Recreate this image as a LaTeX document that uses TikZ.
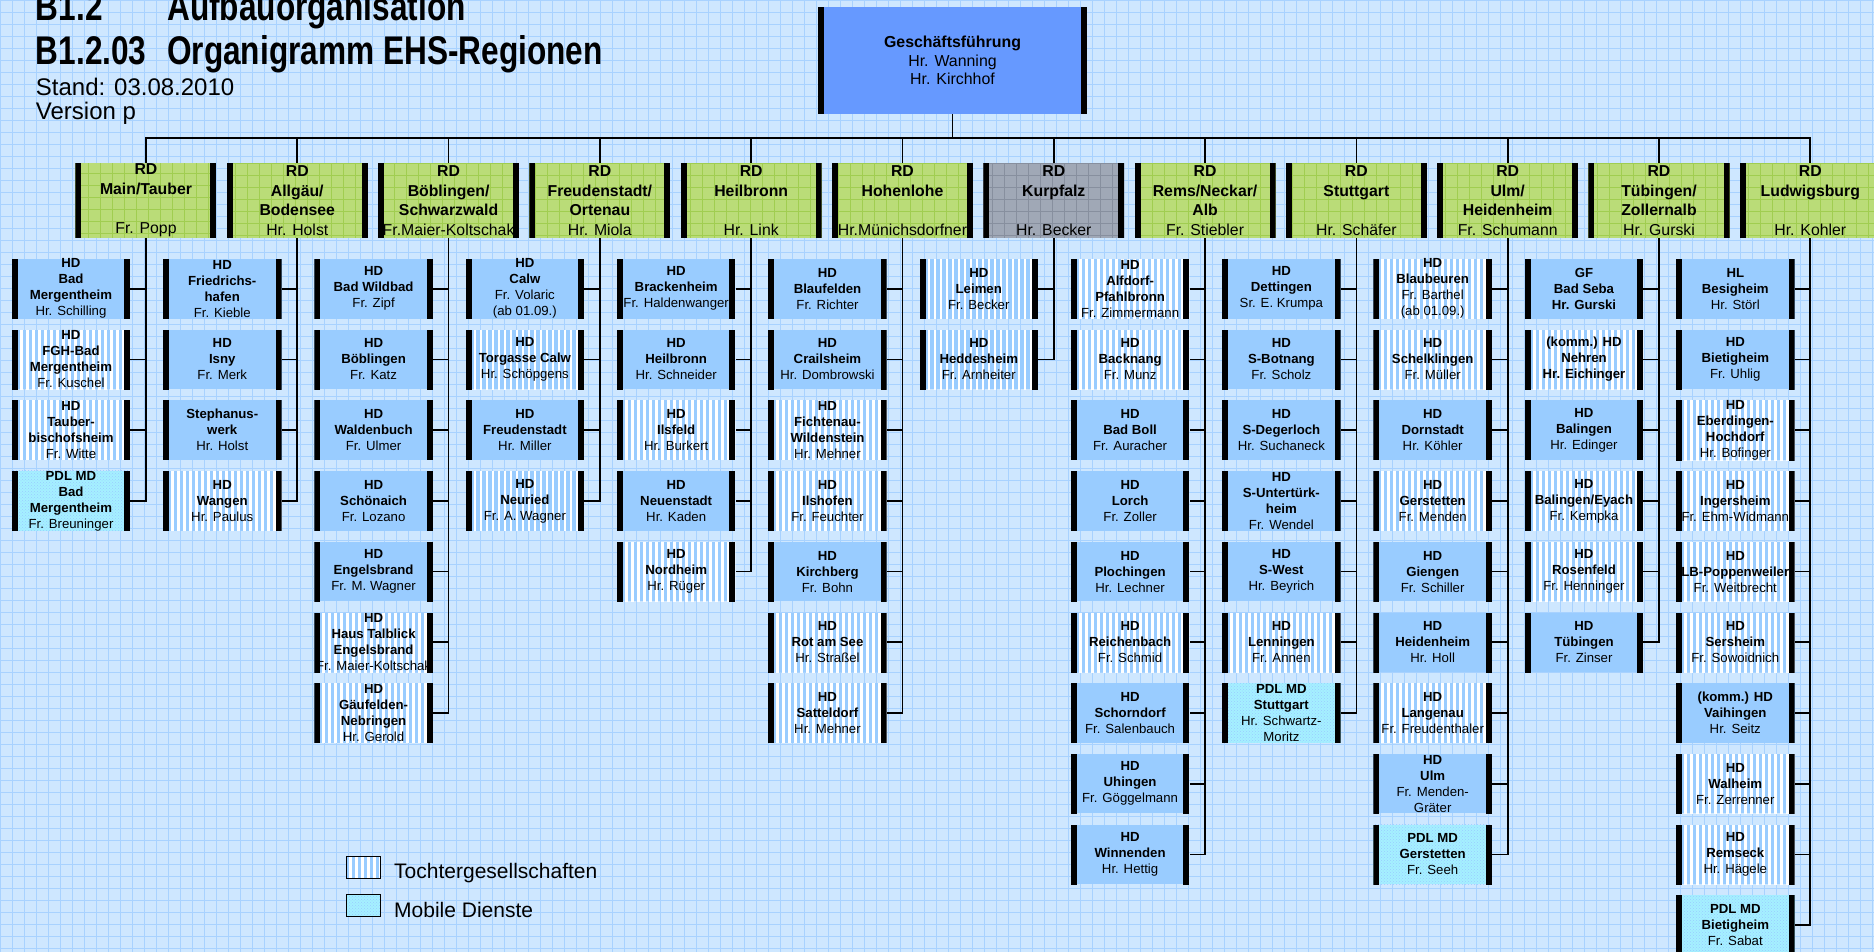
\documentclass[tikz,border=0pt]{standalone}
\usepackage{fontspec}
\setmainfont{Liberation Sans}
\newfontfamily\headfont[FakeStretch=0.79]{Liberation Sans}
\usepackage{tikz}
\usetikzlibrary{trees,shapes,patterns}

\definecolor{paper}{RGB}{206,231,255}
\definecolor{paperline}{RGB}{168,210,255}
\definecolor{gfblue}{RGB}{102,153,255}
\definecolor{hdblue}{RGB}{153,204,255}
\definecolor{rdgreen}{RGB}{186,220,120}
\definecolor{rdline}{RGB}{160,205,80}
\definecolor{kpgray}{RGB}{160,168,182}
\definecolor{kpline}{RGB}{135,143,158}
\definecolor{mdcyan}{RGB}{165,240,255}

\newcommand{\sidebars}{%
  \fill[black] (path picture bounding box.north west) rectangle ++(6pt,-120pt);
  \fill[black] (path picture bounding box.north east) rectangle ++(-6pt,-120pt);}
\newcommand{\stripes}{%
  \foreach \s in {2,8,...,116}
    \fill[white] ([xshift=\s pt]path picture bounding box.north west) rectangle ++(2.8pt,-70pt);}
\newcommand{\boxgrid}[1]{%
  \draw[#1,line width=0.7pt,step=12pt] (path picture bounding box.south west) grid (path picture bounding box.north east);}
\newcommand{\mddots}{%
  \fill[pattern=crosshatch dots,pattern color=hdblue] (path picture bounding box.south west) rectangle (path picture bounding box.north east);}

\tikzset{
  gfbox/.style={rectangle,fill=gfblue,minimum width=269pt,minimum height=107pt,inner sep=0pt,
    align=center,font=\fontsize{15.9}{18.5}\selectfont,path picture={\sidebars}},
  rdbox/.style={rectangle,fill=rdgreen,minimum width=141pt,minimum height=75pt,inner sep=0pt,
    align=center,font=\fontsize{15.8}{19.7}\selectfont\bfseries,path picture={\boxgrid{rdline}\sidebars}},
  kpbox/.style={rdbox,fill=kpgray,path picture={\boxgrid{kpline}\sidebars}},
  hdbox/.style={rectangle,fill=hdblue,minimum width=118.5pt,minimum height=59.5pt,inner sep=0pt,
    align=center,font=\fontsize{13.2}{16}\selectfont\bfseries,path picture={\sidebars}},
  tgbox/.style={hdbox,path picture={\stripes\sidebars}},
  mdbox/.style={hdbox,fill=mdcyan,path picture={\mddots\sidebars}},
  head/.style={anchor=base west,inner sep=0pt,font=\headfont\bfseries\fontsize{40}{42}\selectfont},
  standtext/.style={anchor=base west,inner sep=0pt,font=\fontsize{24}{26}\selectfont},
  legtg/.style={rectangle,draw=black,line width=1pt,fill=hdblue,minimum width=33.5pt,minimum height=21.5pt,path picture={\stripes}},
  legmd/.style={legtg,fill=mdcyan,path picture={\mddots}},
  legtext/.style={anchor=west,inner sep=0pt,font=\fontsize{21}{24}\selectfont}
}

\begin{document}
\begin{tikzpicture}[x=1pt,y=1pt,
    edge from parent/.style={draw,line width=1.7pt},
    level 1/.style={grow via three points={one child at (0,-140) and two children at (-73.32,-140) and (77.98,-140)},
      edge from parent path={(\tikzparentnode.south) |- ([yshift=25pt]\tikzchildnode.north) -- (\tikzchildnode.north)}},
    level 2/.style={grow via three points={one child at (-75,-88.25) and two children at (-75,-88.25) and (-75,-158.95)},
      edge from parent path={(\tikzparentnode.south) |- (\tikzchildnode.east)}}]
    \useasboundingbox (0,0) rectangle (1874,-952);
    \fill[paper] (0,0) rectangle (1874,-952);
    \draw[paperline,line width=0.8pt,step=12pt] (0,0) grid (1874,-952);

    \node[head] (kap) at (35.7,-20.5) {B1.2};
    \node[head] (kaptitel) at (167,-20.5) {Aufbauorganisation};
    \node[head] (abschnitt) at (35.7,-64.5) {B1.2.03};
    \node[head] (abstitel) at (167,-64.5) {Organigramm EHS-Regionen};
    \node[standtext] (stand) at (35.7,-95.5) {Stand: 03.08.2010};
    \node[standtext] (version) at (35.7,-119.5) {Version p};

    \node[gfbox] (gf) at (952.5,-60.5) {\textbf{Geschäftsführung}\\Hr. Wanning\\Hr. Kirchhof}
        child{node[rdbox] (rdmt) {RD\\Main/Tauber\\~\\\mdseries Fr. Popp}
            child{node[hdbox] (mt1) {HD\\Bad\\Mergentheim\\\mdseries Hr. Schilling}}
            child{node[tgbox] (mt2) {HD\\FGH-Bad\\Mergentheim\\\mdseries Fr. Kuschel}}
            child{node[tgbox] (mt3) {HD\\Tauber-\\bischofsheim\\\mdseries Fr. Witte}}
            child{node[mdbox] (mt4) {PDL MD\\Bad\\Mergentheim\\\mdseries Fr. Breuninger}}}
        child{node[rdbox] (rdab) {RD\\Allgäu/\\Bodensee\\\mdseries Hr. Holst}
            child{node[hdbox] (ab1) {HD\\Friedrichs-\\hafen\\\mdseries Fr. Kieble}}
            child{node[hdbox] (ab2) {HD\\Isny\\\mdseries Fr. Merk}}
            child{node[hdbox] (ab3) {Stephanus-\\werk\\\mdseries Hr. Holst}}
            child{node[tgbox] (ab4) {HD\\Wangen\\\mdseries Hr. Paulus}}}
        child{node[rdbox] (rdbs) {RD\\Böblingen/\\Schwarzwald\\\mdseries Fr.Maier-Koltschak}
            child{node[hdbox] (bs1) {HD\\Bad Wildbad\\\mdseries Fr. Zipf}}
            child{node[hdbox] (bs2) {HD\\Böblingen\\\mdseries Fr. Katz}}
            child{node[hdbox] (bs3) {HD\\Waldenbuch\\\mdseries Fr. Ulmer}}
            child{node[hdbox] (bs4) {HD\\Schönaich\\\mdseries Fr. Lozano}}
            child{node[hdbox] (bs5) {HD\\Engelsbrand\\\mdseries Fr. M. Wagner}}
            child{node[tgbox] (bs6) {HD\\Haus Talblick\\Engelsbrand\\\mdseries Fr. Maier-Koltschak}}
            child{node[tgbox] (bs7) {HD\\Gäufelden-\\Nebringen\\\mdseries Hr. Gerold}}}
        child{node[rdbox] (rdfo) {RD\\Freudenstadt/\\Ortenau\\\mdseries Hr. Miola}
            child{node[hdbox] (fo1) {HD\\Calw\\\mdseries Fr. Volaric\\\mdseries (ab 01.09.)}}
            child{node[tgbox] (fo2) {HD\\Torgasse Calw\\\mdseries Hr. Schöpgens}}
            child{node[hdbox] (fo3) {HD\\Freudenstadt\\\mdseries Hr. Miller}}
            child{node[tgbox] (fo4) {HD\\Neuried\\\mdseries Fr. A. Wagner}}}
        child{node[rdbox] (rdhn) {RD\\Heilbronn\\~\\\mdseries Hr. Link}
            child{node[hdbox] (hn1) {HD\\Brackenheim\\\mdseries Fr. Haldenwanger}}
            child{node[hdbox] (hn2) {HD\\Heilbronn\\\mdseries Hr. Schneider}}
            child{node[tgbox] (hn3) {HD\\Ilsfeld\\\mdseries Hr. Burkert}}
            child{node[hdbox] (hn4) {HD\\Neuenstadt\\\mdseries Hr. Kaden}}
            child{node[tgbox] (hn5) {HD\\Nordheim\\\mdseries Hr. Rüger}}}
        child{node[rdbox] (rdho) {RD\\Hohenlohe\\~\\\mdseries Hr.Münichsdorfner}
            child{node[hdbox] (ho1) {HD\\Blaufelden\\\mdseries Fr. Richter}}
            child{node[hdbox] (ho2) {HD\\Crailsheim\\\mdseries Hr. Dombrowski}}
            child{node[tgbox] (ho3) {HD\\Fichtenau-\\Wildenstein\\\mdseries Hr. Mehner}}
            child{node[tgbox] (ho4) {HD\\Ilshofen\\\mdseries Fr. Feuchter}}
            child{node[hdbox] (ho5) {HD\\Kirchberg\\\mdseries Fr. Bohn}}
            child{node[tgbox] (ho6) {HD\\Rot am See\\\mdseries Hr. Straßel}}
            child{node[tgbox] (ho7) {HD\\Satteldorf\\\mdseries Hr. Mehner}}}
        child{node[kpbox] (rdkp) {RD\\Kurpfalz\\~\\\mdseries Hr. Becker}
            child{node[tgbox] (kp1) {HD\\Leimen\\\mdseries Fr. Becker}}
            child{node[tgbox] (kp2) {HD\\Heddesheim\\\mdseries Fr. Arnheiter}}}
        child{node[rdbox] (rdrn) {RD\\Rems/Neckar/\\Alb\\\mdseries Fr. Stiebler}
            child{node[tgbox] (rn1) {HD\\Alfdorf-\\Pfahlbronn\\\mdseries Fr. Zimmermann}}
            child{node[tgbox] (rn2) {HD\\Backnang\\\mdseries Fr. Munz}}
            child{node[hdbox] (rn3) {HD\\Bad Boll\\\mdseries Fr. Auracher}}
            child{node[hdbox] (rn4) {HD\\Lorch\\\mdseries Fr. Zoller}}
            child{node[hdbox] (rn5) {HD\\Plochingen\\\mdseries Hr. Lechner}}
            child{node[tgbox] (rn6) {HD\\Reichenbach\\\mdseries Fr. Schmid}}
            child{node[hdbox] (rn7) {HD\\Schorndorf\\\mdseries Fr. Salenbauch}}
            child{node[hdbox] (rn8) {HD\\Uhingen\\\mdseries Fr. Göggelmann}}
            child{node[hdbox] (rn9) {HD\\Winnenden\\\mdseries Hr. Hettig}}}
        child{node[rdbox] (rdst) {RD\\Stuttgart\\~\\\mdseries Hr. Schäfer}
            child{node[hdbox] (st1) {HD\\Dettingen\\\mdseries Sr. E. Krumpa}}
            child{node[hdbox] (st2) {HD\\S-Botnang\\\mdseries Fr. Scholz}}
            child{node[hdbox] (st3) {HD\\S-Degerloch\\\mdseries Hr. Suchaneck}}
            child{node[hdbox] (st4) {HD\\S-Untertürk-\\heim\\\mdseries Fr. Wendel}}
            child{node[hdbox] (st5) {HD\\S-West\\\mdseries Hr. Beyrich}}
            child{node[tgbox] (st6) {HD\\Lenningen\\\mdseries Fr. Annen}}
            child{node[mdbox] (st7) {PDL MD\\Stuttgart\\\mdseries Hr. Schwartz-\\\mdseries Moritz}}}
        child{node[rdbox] (rduh) {RD\\Ulm/\\Heidenheim\\\mdseries Fr. Schumann}
            child{node[tgbox] (uh1) {HD\\Blaubeuren\\\mdseries Fr. Barthel\\\mdseries (ab 01.09.)}}
            child{node[tgbox] (uh2) {HD\\Schelklingen\\\mdseries Fr. Müller}}
            child{node[hdbox] (uh3) {HD\\Dornstadt\\\mdseries Hr. Köhler}}
            child{node[tgbox] (uh4) {HD\\Gerstetten\\\mdseries Fr. Menden}}
            child{node[hdbox] (uh5) {HD\\Giengen\\\mdseries Fr. Schiller}}
            child{node[hdbox] (uh6) {HD\\Heidenheim\\\mdseries Hr. Holl}}
            child{node[tgbox] (uh7) {HD\\Langenau\\\mdseries Fr. Freudenthaler}}
            child{node[hdbox] (uh8) {HD\\Ulm\\\mdseries Fr. Menden-\\\mdseries Gräter}}
            child{node[mdbox] (uh9) {PDL MD\\Gerstetten\\\mdseries Fr. Seeh}}}
        child{node[rdbox] (rdtz) {RD\\Tübingen/\\Zollernalb\\\mdseries Hr. Gurski}
            child{node[hdbox] (tz1) {GF\\Bad Seba\\Hr. Gurski}}
            child{node[tgbox] (tz2) {(komm.) HD\\Nehren\\Hr. Eichinger}}
            child{node[hdbox] (tz3) {HD\\Balingen\\\mdseries Hr. Edinger}}
            child{node[tgbox] (tz4) {HD\\Balingen/Eyach\\\mdseries Fr. Kempka}}
            child{node[tgbox] (tz5) {HD\\Rosenfeld\\\mdseries Fr. Henninger}}
            child{node[hdbox] (tz6) {HD\\Tübingen\\\mdseries Fr. Zinser}}}
        child{node[rdbox] (rdlb) {RD\\Ludwigsburg\\~\\\mdseries Hr. Kohler}
            child{node[hdbox] (lb1) {HL\\Besigheim\\\mdseries Hr. Störl}}
            child{node[hdbox] (lb2) {HD\\Bietigheim\\\mdseries Fr. Uhlig}}
            child{node[tgbox] (lb3) {HD\\Eberdingen-\\Hochdorf\\\mdseries Hr. Bofinger}}
            child{node[tgbox] (lb4) {HD\\Ingersheim\\\mdseries Fr. Ehm-Widmann}}
            child{node[tgbox] (lb5) {HD\\LB-Poppenweiler\\\mdseries Fr. Weitbrecht}}
            child{node[tgbox] (lb6) {HD\\Sersheim\\\mdseries Fr. Sowoidnich}}
            child{node[hdbox] (lb7) {(komm.) HD\\Vaihingen\\\mdseries Hr. Seitz}}
            child{node[tgbox] (lb8) {HD\\Walheim\\\mdseries Fr. Zerrenner}}
            child{node[tgbox] (lb9) {HD\\Remseck\\\mdseries Hr. Hägele}}
            child{node[mdbox] (lb10) {PDL MD\\Bietigheim\\\mdseries Fr. Sabat}}}
        ;

    \node[legtg] (legtg) at (363.5,-867.5) {};
    \node[legtext] (legtgtext) at (394,-873) {Tochtergesellschaften};
    \node[legmd] (legmd) at (363.5,-905.5) {};
    \node[legtext] (legmdtext) at (394,-909.5) {Mobile Dienste};
\end{tikzpicture}
\end{document}
